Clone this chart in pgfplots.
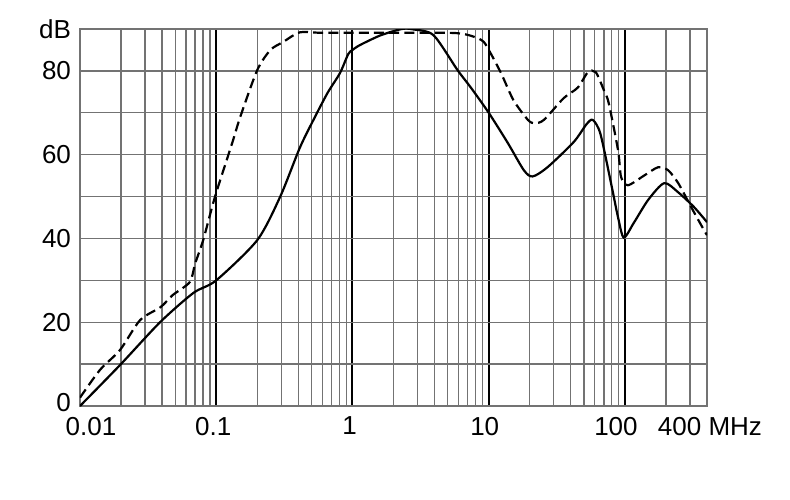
\documentclass[border=0pt]{standalone}
\usepackage{pgfplots}
\pgfplotsset{compat=1.18}
\usepackage{fontspec}
\setmainfont{Liberation Sans}
\begin{document}
\begin{tikzpicture}
\path[use as bounding box] (0,0) rectangle (395pt,249.5pt);
\begin{axis}[
  at={(40pt,46.5pt)}, anchor=south west,
  scale only axis, width=313.5pt, height=188.5pt,
  xmode=log, xmin=0.01, xmax=400, ymin=0, ymax=90,
  xtick={0.01,0.1,1,10,100},
  xticklabels={\hspace*{11pt}0.01,0.1\hspace*{3pt},1\hspace*{3pt},10\hspace*{4pt},100\hspace*{9pt}},
  extra x ticks={400}, extra x tick labels={\hspace*{3pt}400 MHz},
  extra x tick style={grid=none},
  minor xtick={0.02,0.03,0.04,0.05,0.06,0.07,0.08,0.09,0.2,0.3,0.4,0.5,0.6,0.7,0.8,0.9,2,3,4,5,6,7,8,9,20,30,40,50,60,70,80,90,200,300},
  ytick={0,10,20,30,40,50,60,70,80,90},
  yticklabels={\raisebox{3.5pt}{0},,20,,40,,60,,80,\raisebox{-2pt}{dB}},
  major tick length=0pt, minor tick length=0pt,
  xmajorgrids, xminorgrids, ymajorgrids,
  major x grid style={black, line width=1pt},
  minor x grid style={black!55, line width=0.65pt},
  major y grid style={black!55, line width=0.7pt},
  axis line style={black!55, line width=0.7pt},
  /pgf/number format/assume math mode=true,
  ticklabel style={font=\fontsize{13}{15}\selectfont},
  yticklabel style={xshift=-1pt},
  xticklabel style={yshift=-2pt},
  log basis x=10,
]
\addplot[black, line width=1.1pt, smooth, tension=0.45] coordinates {
(0.01,0) (0.0197,9.8) (0.0387,20) (0.068,27) (0.1,30) (0.2,39.6) (0.295,50)
(0.41,61.6) (0.517,68.3) (0.655,74.7) (0.81,79.5) (0.93,84) (1.0,85)
(1.14,86.2) (1.61,88.5) (2.3,90) (2.8,89.9)
(3.94,88.5) (5.9,80.2) (7.4,76) (10,70) (13.8,62.8) (18.1,56.3) (21,54.8)
(27,57) (42,63) (52,67.2) (58,68.3) (66,65) (79,53.2) (89,45) (98,40.2)
(116,43.7) (148,49.2) (194,53.2) (246,51) (321,47.5) (400,43.9)
};
\addplot[black, line width=1.1pt, dash pattern=on 5pt off 2.6pt, smooth, tension=0.45] coordinates {
(0.01,2) (0.014,8.6) (0.0197,13.4) (0.0276,20.5) (0.039,23.6) (0.048,26.5)
(0.064,29.6) (0.070,34) (0.0802,39.6) (0.098,50) (0.131,62.8) (0.15,69)
(0.2,80.2) (0.25,85) (0.31,86.9) (0.41,89.2) (0.6,89.1) (2,89.1) (5.9,89)
(8.8,87.4) (10,85) (12.3,79.5) (15.2,73) (19.4,68.3) (21.7,67.5) (25.4,68.3)
(35.5,73.5) (45,76) (53.5,79.7) (61,79.7) (70,75.4) (76,72.3) (89,61) (93.6,54.7)
(105,52.7) (138,55) (175,57) (207,56.3) (246,53.2) (306,47.5) (380,42) (400,40.8)
};
\end{axis}
\end{tikzpicture}
\end{document}
